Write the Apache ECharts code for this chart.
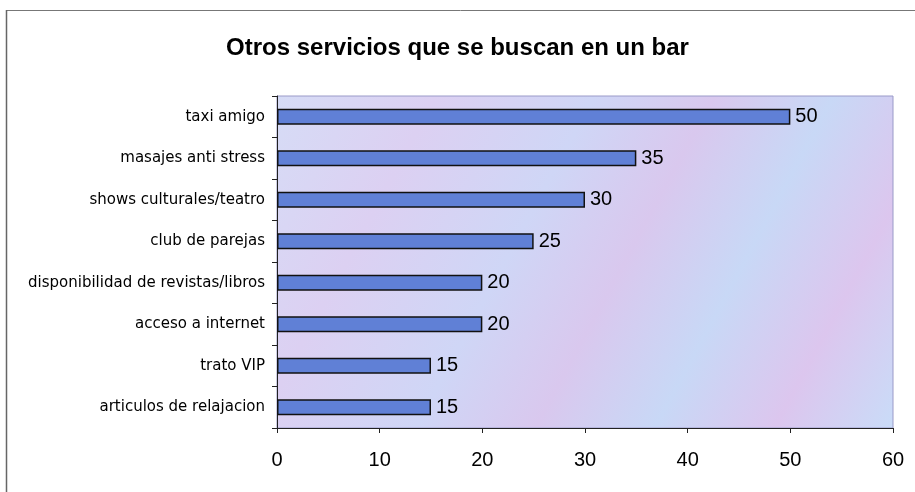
<!DOCTYPE html>
<html><head><meta charset="utf-8">
<script src="https://cdn.jsdelivr.net/npm/echarts@6/dist/echarts.min.js"></script>
<style>html,body{margin:0;padding:0;background:#fff}#c{width:915px;height:492px}</style>
</head><body><div id="c"></div>
<script>
const categories = ['taxi amigo','masajes anti stress','shows culturales/teatro','club de parejas','disponibilidad de revistas/libros','acceso a internet','trato VIP','articulos de relajacion'];
const values = [50,35,30,25,20,20,15,15];
const xTicks = [0,10,20,30,40,50,60];

const chart = echarts.init(document.getElementById('c'));
chart.setOption({
  animation:false,
  backgroundColor:'#ffffff',
  title:{text:'Otros servicios que se buscan en un bar',left:'center',top:31,
    textStyle:{fontFamily:'Liberation Sans',fontWeight:'bold',fontSize:24,color:'#000'}},
  graphic:[
    {type:'line',shape:{x1:6,y1:10.5,x2:915,y2:10.5},style:{stroke:'#777',lineWidth:1}},
    {type:'line',shape:{x1:6.5,y1:10,x2:6.5,y2:492},style:{stroke:'#666',lineWidth:1.5}}
  ],
  grid:{left:277,right:22,top:96,bottom:64,show:true,borderColor:'#9a9ac8',borderWidth:1,
    backgroundColor:{type:'linear',x:0,y:0,x2:1,y2:1,colorStops:[
      {offset:0,color:'#d6dcf6'},{offset:0.2,color:'#dcd0f2'},{offset:0.4,color:'#cfd6f6'},
      {offset:0.55,color:'#d9c8ee'},{offset:0.7,color:'#c8d8f6'},{offset:0.85,color:'#dcc6ee'},{offset:1,color:'#c9dcf8'}]}},
  xAxis:{type:'value',min:0,max:60,interval:10,
    axisLine:{show:true,lineStyle:{color:'#222'}},
    axisTick:{show:true,length:5,lineStyle:{color:'#222'}},
    splitLine:{show:false},
    axisLabel:{fontFamily:'Liberation Sans',fontSize:20,color:'#000',margin:22}},
  yAxis:{type:'category',data:categories,inverse:true,
    axisLine:{show:true,lineStyle:{color:'#222'}},
    axisTick:{show:true,length:5,lineStyle:{color:'#222'}},
    axisLabel:{fontFamily:'DejaVu Sans',fontSize:15,color:'#000',margin:12}},
  series:[{type:'bar',data:values,barWidth:16,
    itemStyle:{color:'#6080d6',borderColor:'#111',borderWidth:1.5},
    label:{show:true,position:'right',distance:5,fontFamily:'Liberation Sans',fontSize:20,color:'#000'}}]
});
</script></body></html>
